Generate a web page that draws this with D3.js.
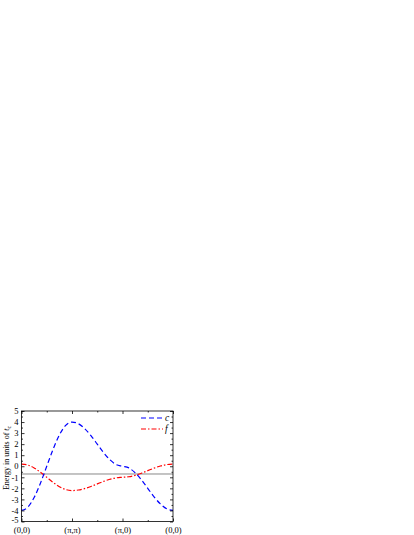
<!DOCTYPE html>
<html><head><meta charset="utf-8">
<script src="https://cdn.jsdelivr.net/npm/d3@7"></script>
<style>body{margin:0;background:#fff}svg{display:block}</style>
</head><body><svg id="chart" width="414" height="535"></svg>
<script>
// k-path positions (0 = (0,0), 1 = (π,π), 2 = (π,0), 3 = (0,0))
const kPath = [0,0.125,0.25,0.375,0.5,0.625,0.75,0.875,1,
               1.125,1.25,1.375,1.5,1.625,1.75,1.875,2,
               2.125,2.25,2.375,2.5,2.625,2.75,2.875,3];
const cBand = [-4.0,-3.7,-2.83,-1.53,0.0,1.53,2.83,3.7,4.0,
               3.85,3.41,2.77,2.0,1.23,0.59,0.15,0.0,
               -0.15,-0.59,-1.23,-2.0,-2.77,-3.41,-3.85,-4.0];
const fBand = [0.2,0.11,-0.15,-0.54,-1.0,-1.46,-1.85,-2.11,-2.2,
               -2.15,-2.02,-1.83,-1.6,-1.37,-1.18,-1.05,-1.0,
               -0.95,-0.82,-0.63,-0.4,-0.17,0.02,0.15,0.2];
const muLevel = -0.7;
const kTicks = [0,1,2,3];
const kMinor = [0.5,1.5,2.5];
const kLabels = ["(0,0)","(π,π)","(π,0)","(0,0)"];
const yTicks = [-5,-4,-3,-2,-1,0,1,2,3,4,5];
const yMinor = [-4.5,-3.5,-2.5,-1.5,-0.5,0.5,1.5,2.5,3.5,4.5];
const seriesNames = ["c","f"];

const svg = d3.select("#chart");
const L = 21.5, R = 173, T = 411, B = 521.5;
const x = d3.scaleLinear().domain([0,3]).range([L,R]);
const y = d3.scaleLinear().domain([-5,5]).range([B,T]);
const font = "'Liberation Serif','Times New Roman',serif";

// mu line
svg.append("line").attr("x1",L).attr("x2",R).attr("y1",y(muLevel)).attr("y2",y(muLevel))
  .attr("stroke","#888").attr("stroke-width",1);

const line = d3.line().x((d,i)=>x(kPath[i])).y(d=>y(d)).curve(d3.curveMonotoneX);
svg.append("path").datum(fBand).attr("d",line).attr("fill","none")
  .attr("stroke","#ff0000").attr("stroke-width",1.2).attr("stroke-dasharray","5,2,1.5,2");
svg.append("path").datum(cBand).attr("d",line).attr("fill","none")
  .attr("stroke","#0000ff").attr("stroke-width",1.2).attr("stroke-dasharray","5,3");

function styleAxis(g){
  g.select(".domain").remove();
  g.selectAll("line").attr("stroke","#000").attr("stroke-width",0.8);
  g.selectAll("text").attr("font-family",font).attr("font-size",8.5).attr("fill","#000");
}
// left
const yAx = svg.append("g").attr("transform",`translate(${L},0)`)
  .call(d3.axisLeft(y).tickValues(yTicks).tickSize(-3).tickPadding(3).tickFormat(d=>d<0?"-"+Math.abs(d):d))
  .call(styleAxis);
yAx.selectAll(".tick").filter(d=>d===-5).select("text").attr("dy","0.1em");
svg.append("g").attr("transform",`translate(${L},0)`)
  .call(d3.axisLeft(y).tickValues(yMinor).tickSize(-1.5).tickFormat(""))
  .call(styleAxis);
// right
svg.append("g").attr("transform",`translate(${R},0)`)
  .call(d3.axisRight(y).tickValues(yTicks).tickSize(-3).tickFormat(""))
  .call(styleAxis);
svg.append("g").attr("transform",`translate(${R},0)`)
  .call(d3.axisRight(y).tickValues(yMinor).tickSize(-1.5).tickFormat(""))
  .call(styleAxis);
// bottom
svg.append("g").attr("transform",`translate(0,${B})`)
  .call(d3.axisBottom(x).tickValues(kTicks).tickSize(-3).tickPadding(5).tickFormat((d,i)=>kLabels[i]))
  .call(styleAxis);
svg.append("g").attr("transform",`translate(0,${B})`)
  .call(d3.axisBottom(x).tickValues(kMinor).tickSize(-1.5).tickFormat(""))
  .call(styleAxis);
// top
svg.append("g").attr("transform",`translate(0,${T})`)
  .call(d3.axisTop(x).tickValues(kTicks).tickSize(-3).tickFormat(""))
  .call(styleAxis);
svg.append("g").attr("transform",`translate(0,${T})`)
  .call(d3.axisTop(x).tickValues(kMinor).tickSize(-1.5).tickFormat(""))
  .call(styleAxis);

// frame
svg.append("rect").attr("x",L).attr("y",T).attr("width",R-L).attr("height",B-T)
  .attr("fill","none").attr("stroke","#000").attr("stroke-width",0.8);

// y title
const yt = svg.append("text").attr("transform",`translate(8.5,458) rotate(-90)`)
  .attr("text-anchor","middle").attr("font-family",font).attr("font-size",8).attr("fill","#000");
yt.append("tspan").text("Energy in units of ");
yt.append("tspan").attr("font-style","italic").text("t");
yt.append("tspan").attr("font-size",5.5).attr("dy",2).text("c");

// legend
const leg = [{name:seriesNames[0],color:"#0000ff",dash:"5,3",yy:418},
             {name:seriesNames[1],color:"#ff0000",dash:"5,2,1.5,2",yy:429}];
leg.forEach(d=>{
  svg.append("line").attr("x1",141).attr("x2",163).attr("y1",d.yy).attr("y2",d.yy)
    .attr("stroke",d.color).attr("stroke-width",1.2).attr("stroke-dasharray",d.dash);
  svg.append("text").attr("x",165).attr("y",d.yy+2.5).attr("font-family",font)
    .attr("font-style","italic").attr("font-size",9.5).text(d.name);
});
</script></body></html>
